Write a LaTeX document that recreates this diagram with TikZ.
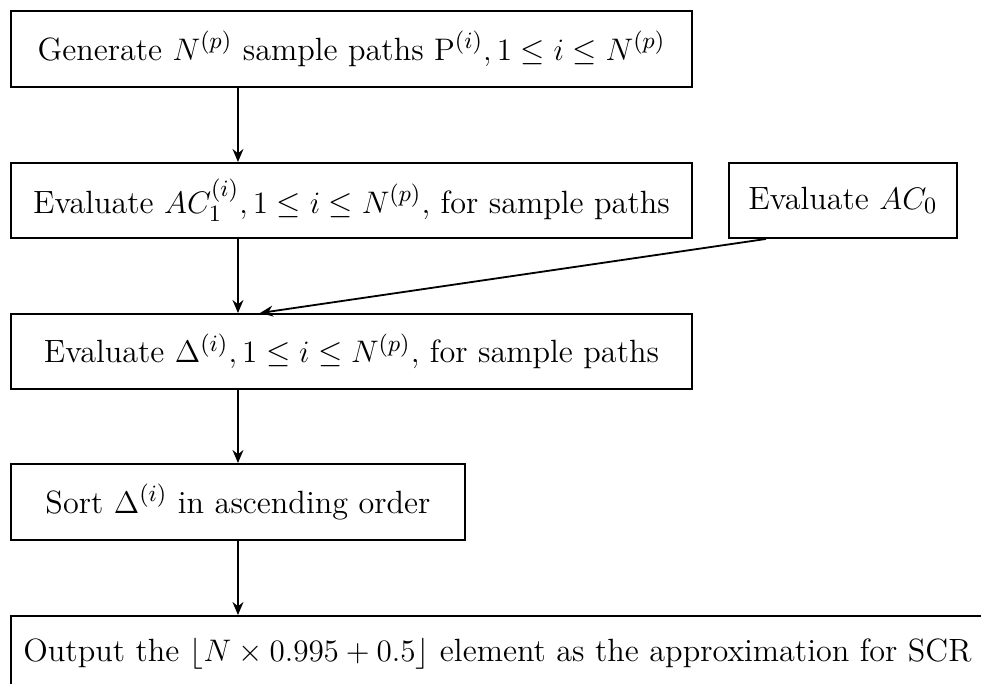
\documentclass[tikz,border=0pt]{standalone}
\usetikzlibrary{arrows.meta,calc}
\tikzset{
  box/.style={draw, line width=0.75pt, inner sep=0pt, anchor=north west, align=center,
    font=\fontsize{12.4}{14.8}\selectfont},
  flow/.style={line width=0.7pt, -{Stealth[length=5pt, width=4.2pt]}}
}
\begin{document}
\begin{tikzpicture}[x=0.385pt, y=-0.385pt]
\clip (0,0) rectangle (981,683);
\useasboundingbox (0,0) rectangle (981,683);
\node[box, minimum width=681*0.385pt, minimum height=76*0.385pt] (b1) at (10,10)
  {Generate $N^{(p)}$ sample paths $\mathrm{P}^{(i)}, 1 \le i \le N^{(p)}$};
\node[box, minimum width=681*0.385pt, minimum height=75*0.385pt] (b2) at (10,162)
  {Evaluate $AC_1^{(i)}, 1 \le i \le N^{(p)}$, for sample paths};
\node[box, minimum width=228*0.385pt, minimum height=75*0.385pt] (ac0) at (728,162)
  {Evaluate $AC_0$};
\node[box, minimum width=681*0.385pt, minimum height=75*0.385pt] (b3) at (10,313)
  {Evaluate $\Delta^{(i)}, 1 \le i \le N^{(p)}$, for sample paths};
\node[box, minimum width=454*0.385pt, minimum height=76*0.385pt] (b4) at (10,463)
  {Sort $\Delta^{(i)}$ in ascending order};
\node[box, minimum width=973*0.385pt, minimum height=76*0.385pt] (b5) at (10,615)
  {Output the $\lfloor N \times 0.995 + 0.5 \rfloor$ element as the approximation for SCR};
\draw[flow] (b1.south -| b4.north) -- (b2.north -| b4.north);
\draw[flow] (b2.south -| b4.north) -- (b3.north -| b4.north);
\draw[flow] ($(ac0.south west)+(38,0)$) -- ($(b3.north west)+(250,0)$);
\draw[flow] (b3.south -| b4.north) -- (b4.north);
\draw[flow] (b4.south) -- (b5.north -| b4.south);
\end{tikzpicture}
\end{document}
